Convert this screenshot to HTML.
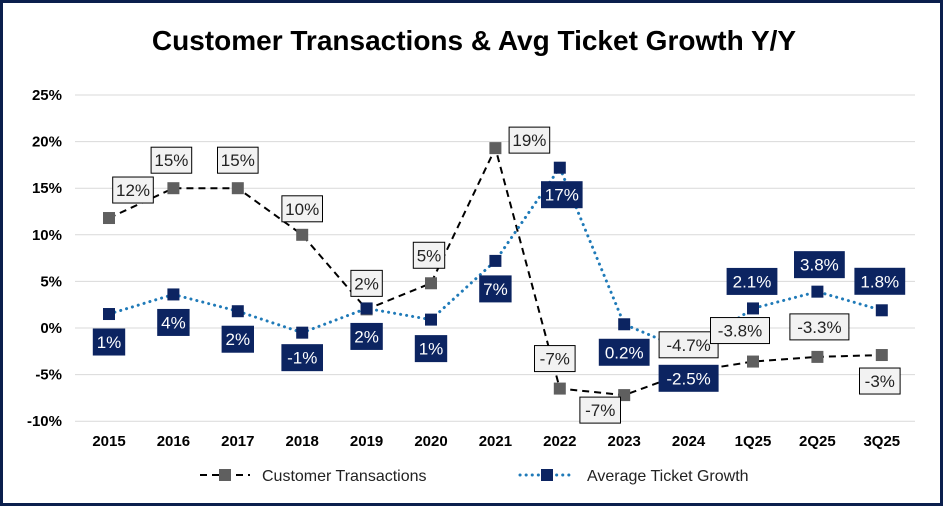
<!DOCTYPE html>
<html><head><meta charset="utf-8"><style>
body{margin:0;background:#fff}
svg{display:block;font-family:"Liberation Sans",Arial,sans-serif}
</style></head><body>
<svg width="943" height="506">
<rect x="1.5" y="1.5" width="940" height="503" fill="#fff" stroke="#0b1f4d" stroke-width="3"/>
<text x="474" y="50" text-anchor="middle" font-size="28" font-weight="bold" fill="#000">Customer Transactions &amp; Avg Ticket Growth Y/Y</text>
<g id="grid"></g><g id="lines"></g><g id="labels"></g>
<g>
<line x1="200" y1="475" x2="250" y2="475" stroke="#000" stroke-width="2" stroke-dasharray="7,5"/>
<rect x="219" y="469" width="12" height="12" fill="#5f5f5f"/>
<text x="262" y="481" font-size="16" fill="#222">Customer Transactions</text>
<line x1="520" y1="475" x2="574" y2="475" stroke="#1f7ab8" stroke-width="3" stroke-dasharray="0.1,6" stroke-linecap="round"/>
<rect x="541" y="469" width="12" height="12" fill="#0c2461"/>
<text x="587" y="481" font-size="16" fill="#222">Average Ticket Growth</text>
</g>
</svg>
<script>
const categories=["2015","2016","2017","2018","2019","2020","2021","2022","2023","2024","1Q25","2Q25","3Q25"];
const customerTx=[11.8,15,15,10,2,4.8,19.3,-6.5,-7.2,-4.7,-3.6,-3.1,-2.9];
const customerTxLabels=["12%","15%","15%","10%","2%","5%","19%","-7%","-7%","-4.7%","-3.8%","-3.3%","-3%"];
const avgTicket=[1.5,3.6,1.8,-0.5,2.1,0.9,7.2,17.2,0.4,-2.5,2.1,3.9,1.9];
const avgTicketLabels=["1%","4%","2%","-1%","2%","1%","7%","17%","0.2%","-2.5%","2.1%","3.8%","1.8%"];
const yTicks=[25,20,15,10,5,0,-5,-10];
const NS="http://www.w3.org/2000/svg";
const xAt=i=>109+i*64.4;
const yAt=v=>328-v*9.32;
function mk(tag,attrs,parent){const e=document.createElementNS(NS,tag);for(const k in attrs)e.setAttribute(k,attrs[k]);parent.appendChild(e);return e;}
const grid=document.getElementById('grid'),lines=document.getElementById('lines'),labels=document.getElementById('labels');
yTicks.forEach(t=>{
 const l=mk('line',{x1:75,x2:915,y1:yAt(t),y2:yAt(t),stroke:'#d9d9d9','stroke-width':1},grid);
 
 
 const tx=mk('text',{x:62,y:yAt(t)+5,'text-anchor':'end','font-size':15,'font-weight':'bold',fill:'#000'},grid);
 tx.textContent=t+'%';
 
 
});
categories.forEach((c,i)=>{
 const tx=mk('text',{x:xAt(i),y:446,'text-anchor':'middle','font-size':15,'font-weight':'bold',fill:'#000'},grid);
 tx.textContent=c;
 
 
});
function series(vals,stroke,dash,width,fill,name,round){
 const pts=vals.map((v,i)=>xAt(i)+','+yAt(v)).join(' ');
 const pl=mk('polyline',{points:pts,fill:'none',stroke:stroke,'stroke-width':width,'stroke-dasharray':dash,'stroke-linecap':round?'round':'butt'},lines);
 
 
 vals.forEach((v,i)=>{
  const r=mk('rect',{x:xAt(i)-6,y:yAt(v)-6,width:12,height:12,fill:fill},lines);
  
  
 });
}
series(customerTx,'#000','7,5',2,'#5f5f5f','customer-transactions',false);
series(avgTicket,'#1f7ab8','0.1,6',3,'#0c2461','average-ticket',true);
const gOff=[[24,-28],[-2,-28],[0,-28],[0,-26],[0,-26],[-2,-28],[34,-8],[-5,-30],[-24,15],[0,-27],[-13,-31],[2,-30],[-2,26]];
const bOff=[[0,28],[0,28],[0,28],[0,25],[0,28],[0,29],[0,28],[2,27],[0,28],[0,27],[-1,-27],[2,-27],[-2,-29]];
function label(cx,cy,text,dark,name){
 const w=text.length*9.2+13,h=26;
 const r=mk('rect',{x:cx-w/2,y:cy-h/2,width:w,height:h,fill:dark?'#0c2461':'#f2f2f2',stroke:dark?'#0c2461':'#000','stroke-width':1},labels);
 
 
 const t=mk('text',{x:cx,y:cy+6,'text-anchor':'middle','font-size':17,fill:dark?'#fff':'#222'},labels);
 t.textContent=text;
 
 
}
customerTx.forEach((v,i)=>label(xAt(i)+gOff[i][0],yAt(v)+gOff[i][1],customerTxLabels[i],false,'customer-transactions'));
avgTicket.forEach((v,i)=>label(xAt(i)+bOff[i][0],yAt(v)+bOff[i][1],avgTicketLabels[i],true,'average-ticket'));
</script>
</body></html>
